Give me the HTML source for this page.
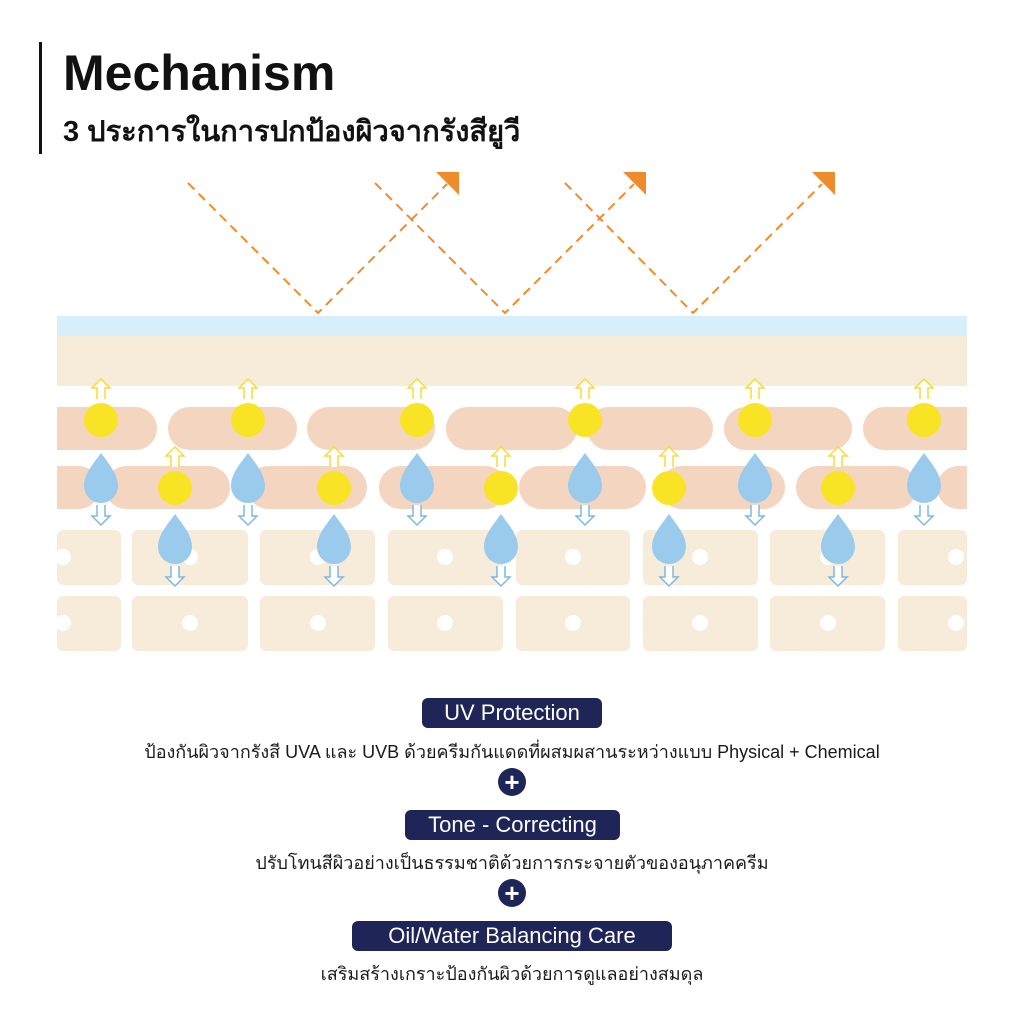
<!DOCTYPE html>
<html><head><meta charset="utf-8"><style>
body{margin:0;width:1024px;height:1024px;background:#fff;overflow:hidden;position:relative;font-family:"Liberation Sans","Noto Sans CJK SC",sans-serif}
.t{position:absolute;left:0;width:1024px;text-align:center;color:#1a1a1a}
.pill{position:absolute;background:#1f2556;color:#fff;border-radius:6px;font-size:22px;text-align:center;line-height:30px;height:30px}
</style></head><body>
<div style="position:absolute;left:39px;top:42px;width:3px;height:112px;background:#111"></div>
<div style="position:absolute;left:63px;top:44px;font-size:50px;font-weight:bold;color:#111">Mechanism</div>
<div style="position:absolute;left:63px;top:108px;font-size:29px;font-weight:bold;color:#111;font-family:'Liberation Sans','Noto Sans CJK SC',sans-serif">3 ประการในการปกป้องผิวจากรังสียูวี</div>
<svg style="position:absolute;left:0;top:0" width="1024" height="680">
<g stroke="#f08b2c" stroke-width="2" stroke-dasharray="9,6" fill="none">
<path d="M188 183 L318 313 L447 184"/>
<path d="M375 183 L505 313 L634 184"/>
<path d="M565 183 L693 313 L822 184"/>
</g>
<g fill="#f08b2c"><path d="M436 172 L459 172 L459 195 Z"/><path d="M623 172 L646 172 L646 195 Z"/><path d="M812 172 L835 172 L835 195 Z"/></g>
<rect x="57" y="316" width="910" height="20" fill="#d6effb"/>
<rect x="57" y="336" width="910" height="50" fill="#f7ebd9"/>
<g fill="#f4d5c0">
<rect x="30" y="407" width="127" height="43" rx="21.5"/><rect x="168" y="407" width="129" height="43" rx="21.5"/><rect x="307" y="407" width="128" height="43" rx="21.5"/><rect x="446" y="407" width="131" height="43" rx="21.5"/><rect x="587" y="407" width="126" height="43" rx="21.5"/><rect x="724" y="407" width="128" height="43" rx="21.5"/><rect x="863" y="407" width="140" height="43" rx="21.5"/>
<rect x="20" y="466" width="80" height="43" rx="21.5"/><rect x="105" y="466" width="125" height="43" rx="21.5"/><rect x="247" y="466" width="120" height="43" rx="21.5"/><rect x="379" y="466" width="128" height="43" rx="21.5"/><rect x="519" y="466" width="127" height="43" rx="21.5"/><rect x="660" y="466" width="125" height="43" rx="21.5"/><rect x="796" y="466" width="121" height="43" rx="21.5"/><rect x="937" y="466" width="80" height="43" rx="21.5"/>
</g>
<rect x="967" y="400" width="57" height="120" fill="#fff"/><rect x="0" y="400" width="57" height="120" fill="#fff"/>
<g fill="#f7ebd9">
<rect x="57" y="530" width="64" height="55" rx="6"/><rect x="132" y="530" width="116" height="55" rx="6"/><rect x="260" y="530" width="115" height="55" rx="6"/><rect x="388" y="530" width="115" height="55" rx="6"/><rect x="516" y="530" width="114" height="55" rx="6"/><rect x="643" y="530" width="115" height="55" rx="6"/><rect x="770" y="530" width="115" height="55" rx="6"/><rect x="898" y="530" width="69" height="55" rx="6"/>
<rect x="57" y="596" width="64" height="55" rx="6"/><rect x="132" y="596" width="116" height="55" rx="6"/><rect x="260" y="596" width="115" height="55" rx="6"/><rect x="388" y="596" width="115" height="55" rx="6"/><rect x="516" y="596" width="114" height="55" rx="6"/><rect x="643" y="596" width="115" height="55" rx="6"/><rect x="770" y="596" width="115" height="55" rx="6"/><rect x="898" y="596" width="69" height="55" rx="6"/>
</g>
<g fill="#fff">
<circle cx="63" cy="557" r="8"/><circle cx="190" cy="557" r="8"/><circle cx="318" cy="557" r="8"/><circle cx="445" cy="557" r="8"/><circle cx="573" cy="557" r="8"/><circle cx="700" cy="557" r="8"/><circle cx="828" cy="557" r="8"/><circle cx="956" cy="557" r="8"/>
<circle cx="63" cy="623" r="8"/><circle cx="190" cy="623" r="8"/><circle cx="318" cy="623" r="8"/><circle cx="445" cy="623" r="8"/><circle cx="573" cy="623" r="8"/><circle cx="700" cy="623" r="8"/><circle cx="828" cy="623" r="8"/><circle cx="956" cy="623" r="8"/>
</g>
<defs>
<g id="ua"><path d="M-4 19 L-4 8 L-9 8 L0 -1 L9 8 L4 8 L4 19" fill="#fff" stroke="#f5dc3a" stroke-width="1.5"/></g>
<g id="da"><path d="M-4 0 L-4 11 L-9 11 L0 20 L9 11 L4 11 L4 0" fill="#fff" stroke="#7bb8e4" stroke-width="1.5"/></g>
<g id="dr"><path d="M0 -27 C8 -16 17 -6 17 6 A17 17 0 0 1 -17 6 C-17 -6 -8 -16 0 -27 Z" fill="#9acbec"/></g>
</defs>
<g>
<use href="#ua" x="101" y="380"/><use href="#ua" x="248" y="380"/><use href="#ua" x="417" y="380"/><use href="#ua" x="585" y="380"/><use href="#ua" x="755" y="380"/><use href="#ua" x="924" y="380"/>
<use href="#ua" x="175" y="448"/><use href="#ua" x="334" y="448"/><use href="#ua" x="501" y="448"/><use href="#ua" x="669" y="448"/><use href="#ua" x="838" y="448"/>
</g>
<g fill="#f8e424">
<circle cx="101" cy="420" r="17"/><circle cx="248" cy="420" r="17"/><circle cx="417" cy="420" r="17"/><circle cx="585" cy="420" r="17"/><circle cx="755" cy="420" r="17"/><circle cx="924" cy="420" r="17"/>
<circle cx="175" cy="488" r="17"/><circle cx="334" cy="488" r="17"/><circle cx="501" cy="488" r="17"/><circle cx="669" cy="488" r="17"/><circle cx="838" cy="488" r="17"/>
</g>
<g>
<use href="#dr" x="101" y="480"/><use href="#dr" x="248" y="480"/><use href="#dr" x="417" y="480"/><use href="#dr" x="585" y="480"/><use href="#dr" x="755" y="480"/><use href="#dr" x="924" y="480"/>
<use href="#dr" x="175" y="541"/><use href="#dr" x="334" y="541"/><use href="#dr" x="501" y="541"/><use href="#dr" x="669" y="541"/><use href="#dr" x="838" y="541"/>
<use href="#da" x="101" y="505"/><use href="#da" x="248" y="505"/><use href="#da" x="417" y="505"/><use href="#da" x="585" y="505"/><use href="#da" x="755" y="505"/><use href="#da" x="924" y="505"/>
<use href="#da" x="175" y="566"/><use href="#da" x="334" y="566"/><use href="#da" x="501" y="566"/><use href="#da" x="669" y="566"/><use href="#da" x="838" y="566"/>
</g>
</svg>
<div class="pill" style="left:422px;top:698px;width:180px">UV Protection</div>
<div class="t" style="top:737px;font-size:18px">ป้องกันผิวจากรังสี UVA และ UVB ด้วยครีมกันแดดที่ผสมผสานระหว่างแบบ Physical + Chemical</div>
<div style="position:absolute;left:498px;top:768px;width:28px;height:28px;border-radius:50%;background:#1f2556;color:#fff;font-size:26px;font-weight:bold;line-height:28px;text-align:center">+</div>
<div class="pill" style="left:405px;top:810px;width:215px">Tone - Correcting</div>
<div class="t" style="top:848px;font-size:18px">ปรับโทนสีผิวอย่างเป็นธรรมชาติด้วยการกระจายตัวของอนุภาคครีม</div>
<div style="position:absolute;left:498px;top:879px;width:28px;height:28px;border-radius:50%;background:#1f2556;color:#fff;font-size:26px;font-weight:bold;line-height:28px;text-align:center">+</div>
<div class="pill" style="left:352px;top:921px;width:320px">Oil/Water Balancing Care</div>
<div class="t" style="top:959px;font-size:18px">เสริมสร้างเกราะป้องกันผิวด้วยการดูแลอย่างสมดุล</div>
</body></html>
